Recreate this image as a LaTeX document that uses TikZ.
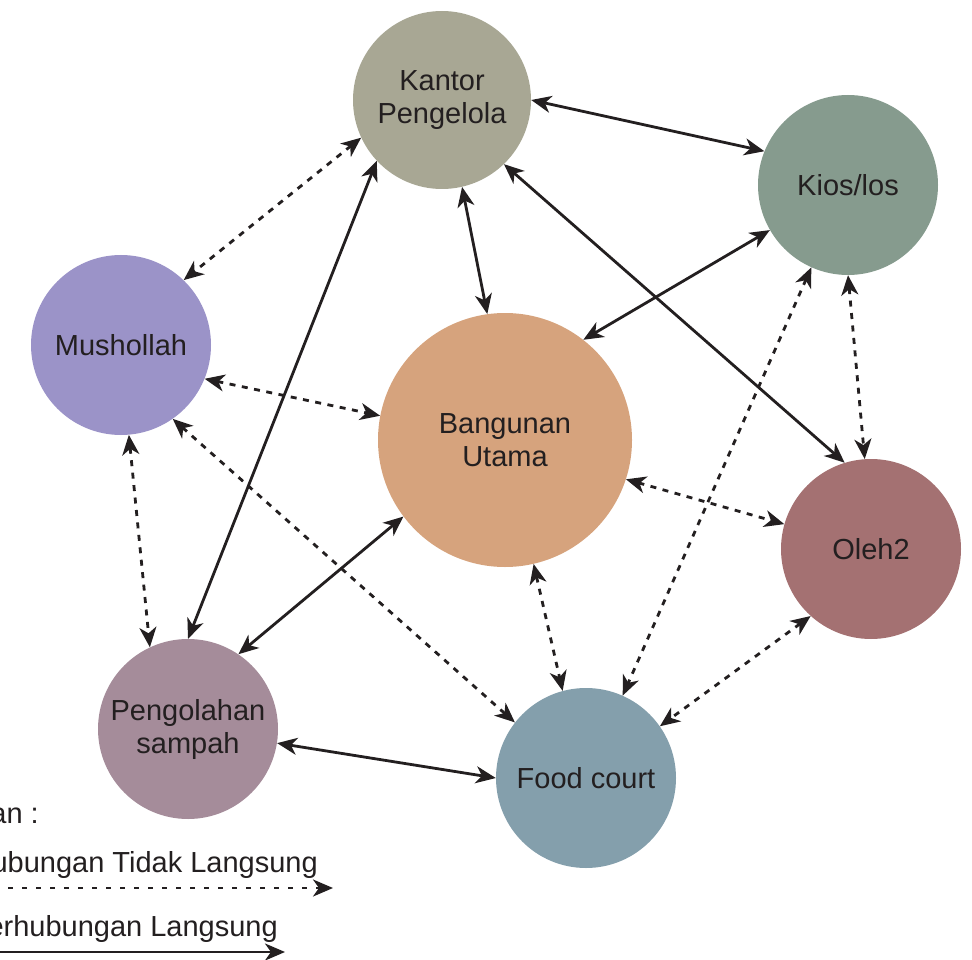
\documentclass[tikz,border=0pt]{standalone}
\usepackage{fontspec}
\setmainfont{Liberation Sans}
\usetikzlibrary{arrows.meta}
\definecolor{txt}{HTML}{231F20}
\definecolor{cKantor}{HTML}{A8A794}
\definecolor{cKios}{HTML}{869B8E}
\definecolor{cMus}{HTML}{9B93C8}
\definecolor{cBang}{HTML}{D6A37D}
\definecolor{cOleh}{HTML}{A47172}
\definecolor{cPeng}{HTML}{A58C9A}
\definecolor{cFood}{HTML}{849FAC}
\begin{document}
\begin{tikzpicture}[x=1pt,y=-1pt,
  bubble/.style={circle, inner sep=0pt, draw=none, align=center, text=txt,
    font=\fontsize{29}{33}\selectfont},
  small/.style={minimum size=180pt},
  legtext/.style={inner sep=0pt, anchor=base east, text=txt, font=\fontsize{29}{33}\selectfont},
  direct/.style={draw=txt, line width=2.8pt, {Stealth[length=20pt,width=17pt,inset=6pt]}-{Stealth[length=20pt,width=17pt,inset=6pt]}},
  indirect/.style={draw=txt, line width=2.8pt, dash pattern=on 6pt off 6.5pt, {Stealth[length=20pt,width=17pt,inset=6pt]}-{Stealth[length=20pt,width=17pt,inset=6pt]}},
  legdirect/.style={draw=txt, line width=2.8pt, -{Stealth[length=20pt,width=17pt,inset=6pt]}},
  legindirect/.style={draw=txt, line width=2.8pt, dash pattern=on 5pt off 9pt, -{Stealth[length=20pt,width=17pt,inset=6pt]}}
]
\useasboundingbox (0,0) rectangle (972,960);

% circles
\node[bubble, small, fill=cKantor, minimum size=178pt] (kantor) at (442,100) {Kantor\\Pengelola};
\node[bubble, small, fill=cKios] (kios) at (848,185) {Kios/los};
\node[bubble, small, fill=cMus] (mus) at (121,345) {Mushollah};
\node[bubble, fill=cBang, minimum size=254pt] (bang) at (505,440) {Bangunan\\Utama};
\node[bubble, small, fill=cOleh] (oleh) at (871,549) {Oleh2};
\node[bubble, small, fill=cPeng] (peng) at (188,729) {Pengolahan\\sampah};
\node[bubble, small, fill=cFood] (food) at (586,778) {Food court};

% direct connections
\draw[direct] (kantor.0) -- (kios.158);
\draw[direct] (kantor.-77) -- (bang.98);
\draw[direct] (kantor.-46) -- (oleh.107);
\draw[direct] (kantor.223) -- (peng.90);
\draw[direct] (kios.210) -- (bang.52);
\draw[direct] (bang.217) -- (peng.56);
\draw[direct] (peng.-9) -- (food.180);

% indirect connections
\draw[indirect] (kantor.205) -- (mus.46);
\draw[indirect] (mus.-22) -- (bang.169);
\draw[indirect] (mus.-55) -- (food.142);
\draw[indirect] (mus.-85) -- (peng.115);
\draw[indirect] (bang.-18) -- (oleh.164);
\draw[indirect] (bang.-77) -- (food.105);
\draw[indirect] (kios.246) -- (food.66);
\draw[indirect] (kios.270) -- (oleh.94);
\draw[indirect] (oleh.228) -- (food.35);

% legend
\node[legtext] (legtitle) at (39,823) {Keterangan :};
\node[legtext] (legind) at (318,872) {Berhubungan Tidak Langsung};
\coordinate (li1) at (-6,888);
\coordinate (li2) at (333,888);
\draw[legindirect] (li1) -- (li2);
\node[legtext] (legdir) at (278,936) {Berhubungan Langsung};
\coordinate (ld1) at (-6,952);
\coordinate (ld2) at (285,952);
\draw[legdirect] (ld1) -- (ld2);
\end{tikzpicture}
\end{document}
